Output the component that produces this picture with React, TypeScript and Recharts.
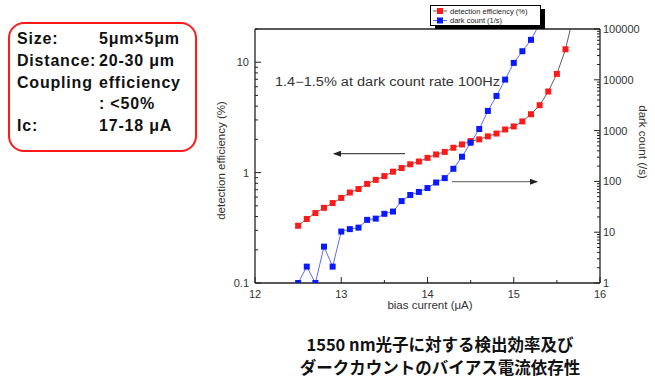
import { ComposedChart, Line, XAxis, YAxis } from "recharts";

// bias current (uA)
const effCurrent = [
  12.5, 12.6, 12.7, 12.8, 12.9, 13.0, 13.1, 13.2, 13.3, 13.4, 13.5, 13.6, 13.7, 13.8, 13.9, 14.0, 14.1,
  14.2, 14.3, 14.4, 14.5, 14.6, 14.7, 14.8, 14.9, 15.0, 15.1, 15.2, 15.3, 15.4, 15.5, 15.6, 15.7,
];
// detection efficiency (%)
const effValues = [
  0.33, 0.38, 0.43, 0.48, 0.53, 0.59, 0.66, 0.71, 0.79, 0.86, 0.93, 1.02, 1.1, 1.19, 1.26, 1.36, 1.46,
  1.54, 1.68, 1.8, 1.93, 2.0, 2.13, 2.26, 2.46, 2.62, 2.91, 3.38, 4.08, 5.43, 7.84, 13.1, 28,
];

const darkCurrent = [
  12.5, 12.6, 12.7, 12.8, 12.9, 13.0, 13.1, 13.2, 13.3, 13.4, 13.5, 13.6, 13.7, 13.8, 13.9, 14.0, 14.1,
  14.2, 14.3, 14.4, 14.5, 14.6, 14.7, 14.8, 14.9, 15.0, 15.1, 15.2, 15.3,
];
// dark count (1/s)
const darkValues = [
  1, 2.1, 1, 5.2, 2.1, 10.3, 11.5, 12.3, 17.5, 18.5, 23, 25.5, 41, 54, 62, 74, 95,
  116, 177, 306, 577, 1075, 2440, 4810, 10090, 21500, 36500, 61200, 125000,
];

const xTicks = [12, 12.5, 13, 13.5, 14, 14.5, 15, 15.5, 16];
const leftTicks = [
  0.1, 0.2, 0.3, 0.4, 0.5, 0.6, 0.7, 0.8, 0.9, 1, 2, 3, 4, 5, 6, 7, 8, 9, 10, 20,
];
const rightMajor = [1, 10, 100, 1000, 10000, 100000];
const rightTicks = rightMajor.flatMap((d, i) =>
  i === rightMajor.length - 1 ? [d] : [1, 2, 3, 4, 5, 6, 7, 8, 9].map((k) => k * d)
);

const effData = effCurrent.map((c, i) => ({ current: c, eff: effValues[i] }));
const darkData = darkCurrent.map((c, i) => ({ current: c, dark: darkValues[i] }));

const INK = "#222";
const TICK_FONT = "'Liberation Sans', Arial, sans-serif";

const isDecade = (v: number) => {
  const l = Math.log10(v);
  return Math.abs(l - Math.round(l)) < 1e-9;
};

function BottomTick({ x, y, payload }: any) {
  const major = Number.isInteger(payload.value);
  return (
    <g>
      <line x1={x} x2={x} y1={y} y2={y - (major ? 6 : 3)} stroke={INK} />
      {major && (
        <text x={x} y={y + 15} textAnchor="middle" fontSize={11} fill="#333" fontFamily={TICK_FONT}>
          {payload.value}
        </text>
      )}
    </g>
  );
}

function TopTick({ x, y, payload }: any) {
  const major = Number.isInteger(payload.value);
  return <line x1={x} x2={x} y1={y} y2={y + (major ? 6 : 3)} stroke={INK} />;
}

function LeftTick({ x, y, payload }: any) {
  const major = isDecade(payload.value);
  return (
    <g>
      <line x1={x} x2={x + (major ? 6 : 3)} y1={y} y2={y} stroke={INK} />
      {major && (
        <text x={x - 6} y={y + 4} textAnchor="end" fontSize={11} fill="#333" fontFamily={TICK_FONT}>
          {payload.value}
        </text>
      )}
    </g>
  );
}

function RightTick({ x, y, payload }: any) {
  const major = isDecade(payload.value);
  return (
    <g>
      <line x1={x} x2={x - (major ? 6 : 3)} y1={y} y2={y} stroke={INK} />
      {major && (
        <text x={x + 3} y={y + 4} textAnchor="start" fontSize={11} fill="#333" fontFamily={TICK_FONT}>
          {payload.value}
        </text>
      )}
    </g>
  );
}

const squareDot = (color: string, key: string, max: number) => (props: any) => {
  const { cx, cy, payload, index } = props;
  if (cx == null || cy == null || payload[key] > max) return <g key={index} />;
  return <rect key={index} x={cx - 3} y={cy - 3} width={6} height={6} fill={color} />;
};

export default function App() {
  return (
    <div style={{ position: "absolute", left: 0, top: 0, width: 655, height: 379, background: "#fff" }}>
      <ComposedChart
        width={655}
        height={379}
        margin={{ top: 19, right: 0, bottom: 66, left: 215 }}
      >
        <XAxis
          xAxisId="bottom"
          type="number"
          dataKey="current"
          domain={[12, 16]}
          ticks={xTicks}
          interval={0}
          allowDataOverflow
          height={30}
          tickSize={0}
          tickMargin={0}
          tick={<BottomTick />}
          axisLine={{ stroke: INK, strokeWidth: 1.3 }}
        />
        <XAxis
          xAxisId="top"
          orientation="top"
          type="number"
          domain={[12, 16]}
          ticks={xTicks}
          interval={0}
          allowDataOverflow
          height={10}
          tickSize={0}
          tickMargin={0}
          tick={<TopTick />}
          axisLine={{ stroke: INK, strokeWidth: 1.3 }}
        />
        <YAxis
          yAxisId="left"
          scale="log"
          domain={[0.1, 20]}
          ticks={leftTicks}
          interval={0}
          allowDataOverflow
          width={40}
          tickSize={0}
          tickMargin={0}
          tick={<LeftTick />}
          axisLine={{ stroke: INK, strokeWidth: 1.3 }}
        />
        <YAxis
          yAxisId="right"
          orientation="right"
          scale="log"
          domain={[1, 100000]}
          ticks={rightTicks}
          interval={0}
          allowDataOverflow
          width={55}
          tickSize={0}
          tickMargin={0}
          tick={<RightTick />}
          axisLine={{ stroke: INK, strokeWidth: 1.3 }}
        />
        <Line
          data={effData}
          xAxisId="bottom"
          yAxisId="left"
          dataKey="eff"
          stroke="#333"
          strokeWidth={0.8}
          dot={squareDot("#ff1a1a", "eff", 20)}
          activeDot={false}
          isAnimationActive={false}
        />
        <Line
          data={darkData}
          xAxisId="bottom"
          yAxisId="right"
          dataKey="dark"
          stroke="#3344ff"
          strokeWidth={0.8}
          dot={squareDot("#0a1aff", "dark", 100000)}
          activeDot={false}
          isAnimationActive={false}
        />
      </ComposedChart>

      <svg
        width={655}
        height={379}
        style={{ position: "absolute", left: 0, top: 0, pointerEvents: "none" }}
        fontFamily={TICK_FONT}
      >
        <defs>
          <marker id="ah" markerWidth="8" markerHeight="6" refX="7" refY="3" orient="auto">
            <path d="M0,0 L8,3 L0,6 Z" fill="#222" />
          </marker>
        </defs>
        {/* axis titles */}
        <text
          x={0}
          y={0}
          transform="translate(225,160.5) rotate(-90)"
          textAnchor="middle"
          fontSize={11.5}
          fill="#333"
        >
          detection efficiency (%)
        </text>
        <text
          x={0}
          y={0}
          transform="translate(639,142) rotate(90)"
          textAnchor="middle"
          fontSize={11.5}
          fill="#333"
        >
          dark count (/s)
        </text>
        <text x={430} y={309} textAnchor="middle" fontSize={11.5} fill="#333">
          bias current (μA)
        </text>
        {/* annotation */}
        <text x={275} y={86} fontSize={12} fill="#333" textLength={225} lengthAdjust="spacingAndGlyphs">
          1.4−1.5% at dark count rate 100Hz
        </text>
        <line x1={405} y1={153.7} x2={334} y2={153.7} stroke="#222" strokeWidth={1} markerEnd="url(#ah)" />
        <line x1={452} y1={181.7} x2={537} y2={181.7} stroke="#555" strokeWidth={1} markerEnd="url(#ah)" />
        {/* legend */}
        <rect x={435} y={9} width={110} height={20} fill="#000" />
        <rect x={430.5} y={5.5} width={110} height={20} fill="#fff" stroke="#000" strokeWidth={1} />
        <line x1={433} x2={447} y1={11} y2={11} stroke="#333" strokeWidth={0.8} />
        <rect x={437} y={8} width={6} height={6} fill="#ff1a1a" />
        <text x={450} y={13.5} fontSize={7.5} fill="#222">detection efficiency (%)</text>
        <line x1={433} x2={447} y1={20.5} y2={20.5} stroke="#3344ff" strokeWidth={0.8} />
        <rect x={437} y={17.5} width={6} height={6} fill="#0a1aff" />
        <text x={450} y={23} fontSize={7.5} fill="#222">dark count (1/s)</text>
      </svg>

      {/* device info box */}
      <div
        style={{
          position: "absolute",
          left: 8,
          top: 22,
          width: 185,
          height: 126,
          border: "2px solid #ff1a1a",
          borderRadius: 16,
          fontFamily: "'Liberation Sans', Arial, sans-serif",
          fontWeight: "bold",
          fontSize: 16,
          letterSpacing: 0.8,
          color: "#111",
        }}
      >
        {[
          ["Size:", "5μm×5μm"],
          ["Distance:", "20-30 μm"],
          ["Coupling", "efficiency"],
          ["", ": <50%"],
          ["Ic:", "17-18 μA"],
        ].map(([a, b], i) => (
          <div key={i} style={{ position: "absolute", top: 4 + i * 21.75, height: 22, lineHeight: "22px", width: 185 }}>
            <span style={{ position: "absolute", left: 7 }}>{a}</span>
            <span style={{ position: "absolute", left: 89 }}>{b}</span>
          </div>
        ))}
      </div>

      {/* caption */}
      <div
        style={{
          position: "absolute",
          left: 240,
          top: 333,
          width: 400,
          textAlign: "center",
          fontFamily: "'Noto Sans CJK JP', sans-serif",
          fontWeight: "bold",
          fontSize: 16.5,
          lineHeight: "23px",
          color: "#111",
        }}
      >
        <div>1550 nm光子に対する検出効率及び</div>
        <div>ダークカウントのバイアス電流依存性</div>
      </div>
    </div>
  );
}
